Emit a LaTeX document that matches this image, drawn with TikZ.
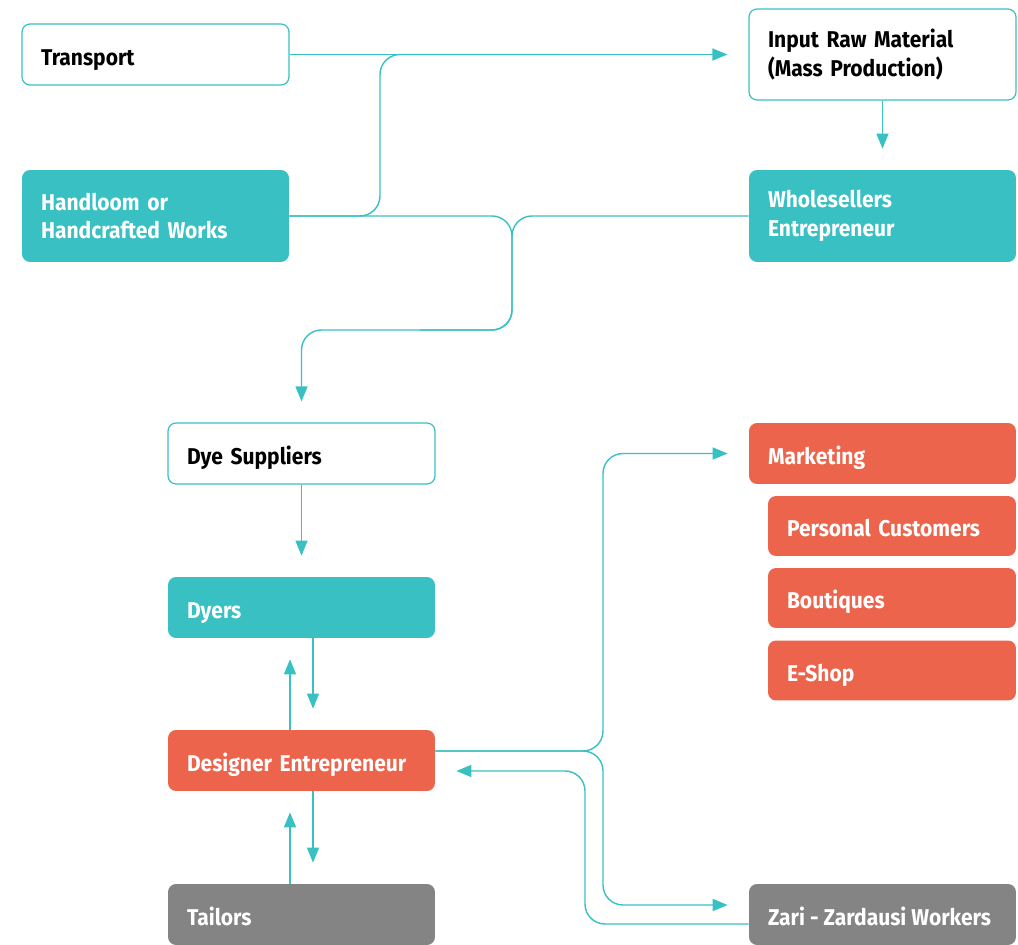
\documentclass[tikz,border=0pt]{standalone}
\usepackage{fontspec}
\setmainfont{Fira Sans}[FakeStretch=0.92]
\usetikzlibrary{arrows.meta}

\definecolor{flowteal}{HTML}{38C0C3}
\definecolor{designred}{HTML}{EC644B}
\definecolor{workgray}{HTML}{848484}

\begin{document}
\begin{tikzpicture}[x=0.02cm,y=-0.02cm,
  box/.style={rectangle,rounded corners=0.16cm,minimum width=5.34cm,minimum height=1.22cm,
    text width=4.58cm,inner xsep=0.38cm,align=left,text height=15pt,text depth=3pt,
    font=\bfseries\fontsize{13}{16.3}\selectfont},
  twoline/.style={text height={},text depth={}},
  plain/.style={box,draw=flowteal,line width=0.7pt,fill=white,text=black},
  tealbox/.style={box,fill=flowteal,text=white},
  redbox/.style={box,fill=designred,text=white},
  graybox/.style={box,fill=workgray,text=white},
  subbox/.style={redbox,minimum width=4.96cm,text width=4.2cm,minimum height=1.2cm},
  link/.style={draw=flowteal,line width=0.8pt,rounded corners=0.4cm},
  arr/.style={link,-{Triangle[length=0.3cm,width=0.24cm]},shorten >=0.42cm}]

  \useasboundingbox (0,0) rectangle (1018,945);

  \node[plain] (transport) at (155.5,54.5) {Transport};
  \node[plain,twoline,minimum height=1.82cm] (raw) at (882.5,54.5) {Input Raw Material\\(Mass Production)};
  \node[tealbox,twoline,minimum height=1.84cm] (hand) at (155.5,216) {Handloom or\\Handcrafted Works};
  \node[tealbox,twoline,minimum height=1.84cm] (whole) at (882.5,216) {Wholesellers\\Entrepreneur};

  \node[plain] (dyesup) at (301.5,453.5) {Dye Suppliers};
  \node[tealbox] (dyers) at (301.5,607.5) {Dyers};
  \node[redbox] (designer) at (301.5,760.5) {Designer Entrepreneur};
  \node[graybox] (tailors) at (301.5,914.5) {Tailors};

  \node[redbox] (market) at (882.5,453.5) {Marketing};
  \node[subbox] (cust) at (892,526) {Personal Customers};
  \node[subbox] (bout) at (892,598) {Boutiques};
  \node[subbox] (eshop) at (892,670.5) {E-Shop};
  \node[graybox] (zari) at (882.5,914.5) {\mbox{\spaceskip=0.22em Zari - Zardausi Workers}};

  % top part
  \draw[arr] (transport.east) -- (transport.east -| raw.west);
  \draw[link] (hand.east) -| (380,54.5) -- (560,54.5);
  \draw[arr] (raw.south) -- (whole.north);
  \draw[arr] (hand.east) -- (512,216) -- (512,330) -- (301.5,330) -- (dyesup.north);
  \draw[link] (whole.west) -- (512,216) -- (512,330) -- (420,330);

  % left column
  \draw[arr] (dyesup.south) -- (dyers.north);
  \draw[arr] ([xshift=0.23cm]dyers.south) -- ([xshift=0.23cm]designer.north);
  \draw[arr] ([xshift=-0.23cm]designer.north) -- ([xshift=-0.23cm]dyers.south);
  \draw[arr] ([xshift=0.23cm]designer.south) -- ([xshift=0.23cm]tailors.north);
  \draw[arr] ([xshift=-0.23cm]tailors.north) -- ([xshift=-0.23cm]designer.south);

  % to the right
  \draw[arr] ([yshift=0.19cm]designer.east) -- (603,751) -- (603,453.5) -- (market.west);
  \draw[arr] ([yshift=0.19cm]designer.east) -- (603,751) -- (603,905) -- ([yshift=0.19cm]zari.west);
  \draw[arr] ([yshift=-0.19cm]zari.west) -- (585,924) -- (585,771) -- ([yshift=-0.21cm]designer.east);

\end{tikzpicture}
\end{document}
